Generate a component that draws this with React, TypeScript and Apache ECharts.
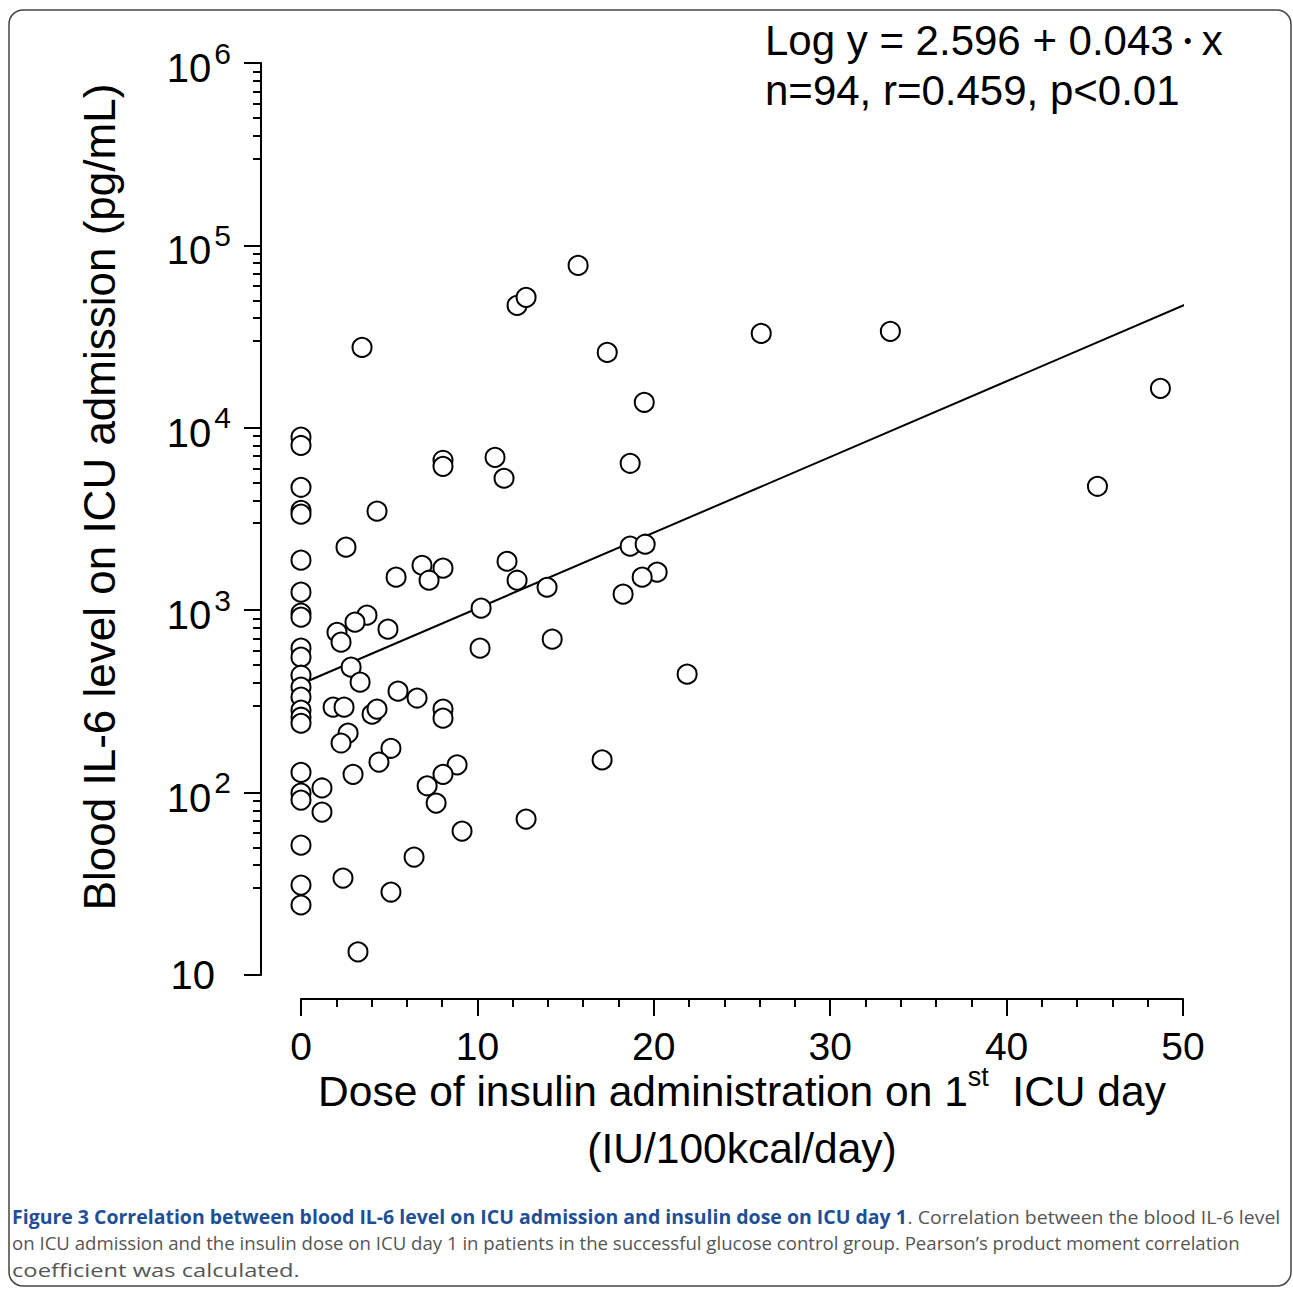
import React, { useEffect, useRef } from "react";
import * as echarts from "echarts";

// Insulin dose on ICU day 1 (IU/100kcal/day) and blood IL-6 on admission (pg/mL)
const insulinDose = [
  0, 0, 0, 0, 0, 0, 0, 0, 0, 0, 0, 0, 0, 0, 0, 0, 0, 0, 0, 0, 0, 0, 0,
  8.05, 8.05, 4.31, 2.55, 6.86, 8.05, 7.26, 5.39, 3.74, 3.06,
  2.04, 2.27, 4.93, 2.84, 3.35, 5.5, 6.58, 8.05, 8.05, 1.82,
  2.44, 4.03, 4.31, 2.67, 2.27, 5.1, 4.42, 2.95, 8.85, 8.05,
  7.15, 7.66, 1.19, 1.19, 9.13, 6.41, 2.38, 5.1, 3.23, 10.15,
  12.76, 11.68, 12.25, 13.95, 10.21, 18.66, 19.51, 20.19, 19.34, 18.26,
  14.24, 21.89, 17.07, 15.71, 12.25, 12.76, 17.36, 26.09, 19.46, 11.0,
  11.51, 18.66, 3.46, 33.41, 48.72, 45.15,
];
const il6Level = [
  8900, 8000, 4720, 3530, 3360, 1880, 1256, 964, 916, 619, 553, 440, 379, 334, 283, 259, 240, 129, 99.4, 91, 51.5, 31.1, 24.2,
  6640, 6150, 3490, 2215, 1764, 1700, 1460, 1517, 939, 860,
  757, 668, 787, 487, 403, 360, 330, 287, 256, 294,
  294, 269, 287, 212, 187, 175, 147, 126, 142, 126,
  109, 87.6, 106, 78.2, 61.5, 44.3, 34.0, 28.5, 13.4, 619,
  71.6, 1855, 1460, 1336, 1026, 2243, 2300, 1616, 1517, 1224,
  694, 446, 151, 77700, 46900, 51900, 25900, 32900, 13800, 6890,
  5290, 6390, 27600, 33800, 16450, 4780,
];

// Regression line end points (Log y = 2.596 + 0.043·x)
const fitDose = [0, 50.7];
const fitIL6 = [394, 50000];

const xTicks = [0, 10, 20, 30, 40, 50];
const yMajorTicks = [10, 100, 1000, 10000, 100000, 1000000];
const yMinorFactors = [3, 4, 5, 6, 7, 8, 9];
const yMinorTicks: number[] = [];
yMajorTicks.slice(0, -1).forEach((d) => yMinorFactors.forEach((f) => yMinorTicks.push(d * f)));

const captionBold = "Figure 3 Correlation between blood IL-6 level on ICU admission and insulin dose on ICU day 1";
const captionLine1Rest = ". Correlation between the blood IL-6 level";
const captionLine2 = "on ICU admission and the insulin dose on ICU day 1 in patients in the successful glucose control group. Pearson\u2019s product moment correlation";
const captionLine3 = "coefficient was calculated.";

const FONT = "Liberation Sans, Arial, sans-serif";
const CAP_FONT = "Open Sans";
const CAP_SIZE = 19;

export default function App() {
  const ref = useRef<HTMLDivElement>(null);
  useEffect(() => {
    if (!ref.current) return;
    const chart = echarts.init(ref.current, null, { renderer: "svg" });

    // measure caption widths to condense each line to the reference line length
    const ctx = document.createElement("canvas").getContext("2d")!;
    ctx.font = `bold ${CAP_SIZE}px "${CAP_FONT}"`;
    const wb = ctx.measureText(captionBold).width;
    ctx.font = `${CAP_SIZE}px "${CAP_FONT}"`;
    const wr = ctx.measureText(captionLine1Rest).width;
    const w2 = ctx.measureText(captionLine2).width;
    const w3 = ctx.measureText(captionLine3).width;
    const s1 = 1268 / (wb + wr);
    const s2 = 1228 / w2;
    const s3 = 288 / w3;

    const black = "#000";

    chart.setOption({
      animation: false,
      backgroundColor: "#fff",
      grid: { left: 301, right: 110, top: 63, bottom: 314, containLabel: false },
      xAxis: {
        type: "value",
        min: 0,
        max: 50,
        interval: 10,
        offset: 24,
        axisLine: { show: true, onZero: false, lineStyle: { color: black, width: 2 } },
        axisTick: { show: true, length: 17, lineStyle: { color: black, width: 2 } },
        minorTick: { show: true, splitNumber: 5, length: 8, lineStyle: { color: black, width: 2 } },
        splitLine: { show: false },
        minorSplitLine: { show: false },
        axisLabel: {
          margin: 27,
          fontSize: 39,
          lineHeight: 40,
          fontFamily: FONT,
          color: black,
          customValues: xTicks,
        },
      },
      yAxis: [
        {
          type: "log",
          logBase: 10,
          min: 10,
          max: 1000000,
          position: "left",
          offset: 40,
          axisLine: { show: true, onZero: false, lineStyle: { color: black, width: 2 } },
          axisTick: { show: true, length: 17, lineStyle: { color: black, width: 2 }, customValues: yMajorTicks },
          splitLine: { show: false },
          axisLabel: {
            customValues: yMajorTicks,
            margin: 30,
            color: black,
            fontFamily: FONT,
            formatter: (v: number) => {
              const e = Math.round(Math.log10(v));
              return e === 1 ? "{c|10}" : `{b|10}{s|${e}}`;
            },
            rich: {
              b: { fontSize: 40, lineHeight: 50, verticalAlign: "bottom", fontFamily: FONT, color: black },
              s: { fontSize: 30, lineHeight: 30, verticalAlign: "top", fontFamily: FONT, color: black, padding: [0, 0, 0, 3] },
              c: { fontSize: 40, lineHeight: 40, fontFamily: FONT, color: black, padding: [0, 16, 0, 0] },
            },
          },
        },
        {
          type: "log",
          logBase: 10,
          min: 10,
          max: 1000000,
          position: "left",
          offset: 40,
          axisLine: { show: false, onZero: false },
          axisTick: { show: true, length: 8, lineStyle: { color: black, width: 2 }, customValues: yMinorTicks },
          axisLabel: { show: false },
          splitLine: { show: false },
        },
      ],
      series: [
        {
          type: "line",
          data: fitDose.map((d, i) => [d, fitIL6[i]]),
          symbol: "none",
          clip: false,
          lineStyle: { color: black, width: 2 },
          silent: true,
          z: 1,
        },
        {
          type: "scatter",
          data: insulinDose.map((d, i) => [d, il6Level[i]]),
          symbol: "circle",
          symbolSize: 19,
          clip: false,
          itemStyle: { color: "#fff", borderColor: black, borderWidth: 2, opacity: 1 },
          z: 2,
        },
      ],
      graphic: [
        {
          type: "rect",
          shape: { x: 9, y: 10, width: 1282, height: 1276, r: 14 },
          style: { fill: "none", stroke: "#444", lineWidth: 1.5 },
          silent: true,
        },
        {
          type: "text",
          x: 765,
          y: 40,
          style: {
            text: "{a|Log y = 2.596 + 0.043}{d|\u30FB}{a|x}",
            verticalAlign: "middle",
            rich: {
              a: { fontSize: 42, lineHeight: 50, fontFamily: FONT, fill: black },
              d: { fontSize: 28, lineHeight: 50, fontFamily: "Noto Sans CJK JP", fill: black },
            },
          },
        },
        {
          type: "text",
          x: 765,
          y: 90,
          style: { text: "n=94, r=0.459, p<0.01", fontSize: 42, fontFamily: FONT, fill: black, verticalAlign: "middle" },
        },
        {
          type: "text",
          x: 99,
          y: 497,
          rotation: Math.PI / 2,
          style: {
            text: "Blood IL-6 level on ICU admission (pg/mL)",
            fontSize: 44,
            fontFamily: FONT,
            fill: black,
            align: "center",
            verticalAlign: "middle",
          },
        },
        {
          type: "text",
          x: 742,
          y: 1088,
          style: {
            text: "{a|Dose of insulin administration on 1}{s|st}{a|  ICU day}",
            align: "center",
            verticalAlign: "middle",
            rich: {
              a: { fontSize: 42.5, lineHeight: 50, verticalAlign: "bottom", fontFamily: FONT, fill: black },
              s: { fontSize: 27, lineHeight: 30, verticalAlign: "top", fontFamily: FONT, fill: black },
            },
          },
        },
        {
          type: "text",
          x: 742,
          y: 1148,
          style: {
            text: "(IU/100kcal/day)",
            fontSize: 42.5,
            fontFamily: FONT,
            fill: black,
            align: "center",
            verticalAlign: "middle",
          },
        },
        {
          type: "text",
          x: 12,
          y: 1217,
          scaleX: s1,
          style: {
            text: `{b|${captionBold}}{r|${captionLine1Rest}}`,
            verticalAlign: "middle",
            rich: {
              b: { fontSize: CAP_SIZE, fontWeight: "bold", fontFamily: CAP_FONT, fill: "#1f4f96" },
              r: { fontSize: CAP_SIZE, fontFamily: CAP_FONT, fill: "#555" },
            },
          },
        },
        {
          type: "text",
          x: 12,
          y: 1243,
          scaleX: s2,
          style: { text: captionLine2, fontSize: CAP_SIZE, fontFamily: CAP_FONT, fill: "#555", verticalAlign: "middle" },
        },
        {
          type: "text",
          x: 12,
          y: 1269,
          scaleX: s3,
          style: { text: captionLine3, fontSize: CAP_SIZE, fontFamily: CAP_FONT, fill: "#555", verticalAlign: "middle" },
        },
      ],
    });
    return () => chart.dispose();
  }, []);

  return (
    <div
      ref={ref}
      style={{ position: "fixed", left: 0, top: 0, width: 1293, height: 1289, background: "#fff" }}
    />
  );
}
